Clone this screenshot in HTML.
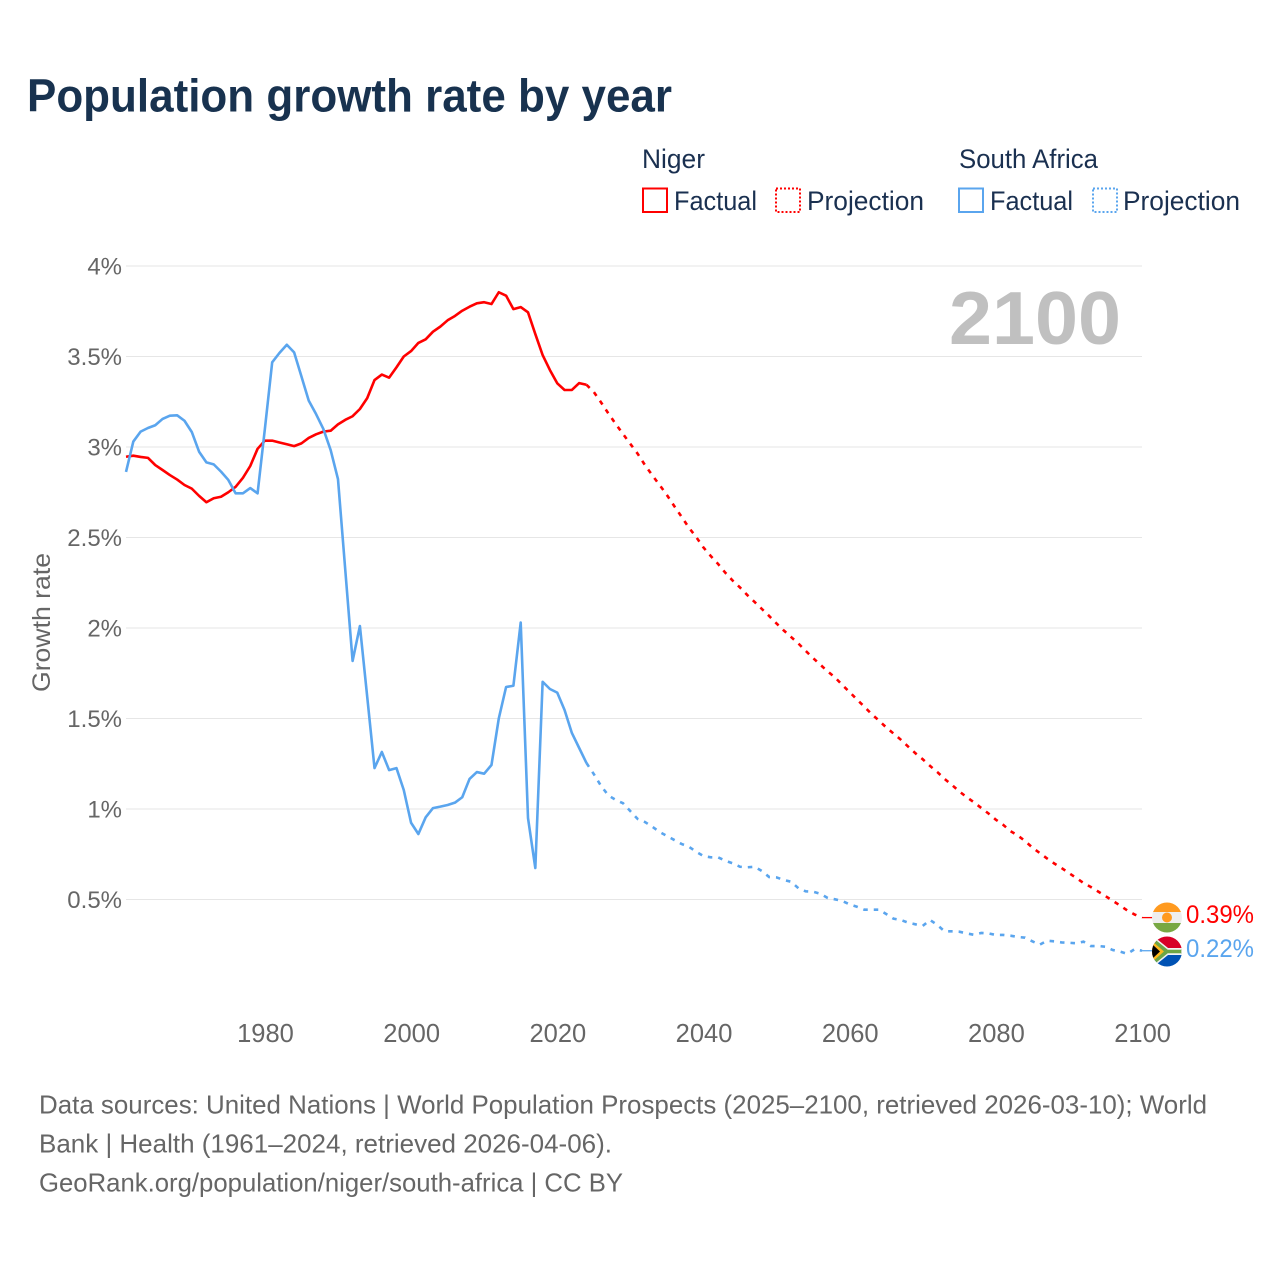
<!DOCTYPE html>
<html lang="en">
<head>
<meta charset="utf-8">
<title>Population growth rate by year</title>
<style>
html,body{margin:0;padding:0;background:#fff;}
svg{display:block;font-family:"Liberation Sans",sans-serif;}
</style>
</head>
<body>
<svg id="chart" xmlns="http://www.w3.org/2000/svg" width="1280" height="1280" viewBox="0 0 1280 1280">
  <rect x="0" y="0" width="1280" height="1280" fill="#ffffff"/>
  <text x="27" y="111.5" font-size="46" font-weight="700" fill="#18324f" textLength="645" lengthAdjust="spacingAndGlyphs">Population growth rate by year</text>

  <g fill="#1a3050" font-size="27">
    <text x="642" y="168" textLength="63" lengthAdjust="spacingAndGlyphs">Niger</text>
    <text x="959" y="168" textLength="139" lengthAdjust="spacingAndGlyphs">South Africa</text>
    <rect x="643" y="188.5" width="24" height="23.5" fill="none" stroke="#ff0000" stroke-width="2"/>
    <text x="674" y="210" textLength="83" lengthAdjust="spacingAndGlyphs">Factual</text>
    <rect x="776" y="188.5" width="24" height="23.5" fill="none" stroke="#ff0000" stroke-width="2" stroke-dasharray="2,2"/>
    <text x="807" y="210" textLength="117" lengthAdjust="spacingAndGlyphs">Projection</text>
    <rect x="959" y="188.5" width="24" height="23.5" fill="none" stroke="#5aa5ee" stroke-width="2"/>
    <text x="990" y="210" textLength="83" lengthAdjust="spacingAndGlyphs">Factual</text>
    <rect x="1093" y="188.5" width="24" height="23.5" fill="none" stroke="#5aa5ee" stroke-width="2" stroke-dasharray="2,2"/>
    <text x="1123" y="210" textLength="117" lengthAdjust="spacingAndGlyphs">Projection</text>
  </g>

  <g id="grid"></g>
  <g id="y-ticks"></g>
  <g id="x-ticks"></g>

  <text x="949" y="344" font-size="75" font-weight="700" fill="#c0c0c0" textLength="172" lengthAdjust="spacingAndGlyphs">2100</text>
  <text transform="translate(50 692) rotate(-90)" font-size="25" fill="#666666" textLength="139" lengthAdjust="spacingAndGlyphs">Growth rate</text>

  <g id="series"></g>

  <g>
    <clipPath id="clip-ne"><circle cx="1167" cy="917.5" r="15"/></clipPath>
    <g clip-path="url(#clip-ne)">
      <rect x="1152" y="902" width="30" height="10.5" fill="#ff9a1f"/>
      <rect x="1152" y="912" width="30" height="11" fill="#eeeeee"/>
      <rect x="1152" y="923" width="30" height="10" fill="#78a843"/>
      <circle cx="1167" cy="917.5" r="5" fill="#ff9a1f"/>
    </g>
  </g>
  <g>
    <clipPath id="clip-za"><circle cx="1167" cy="951.5" r="15"/></clipPath>
    <circle cx="1167" cy="951.5" r="15" fill="#ffffff"/>
    <g clip-path="url(#clip-za)">
      <rect x="1152" y="936" width="30" height="12" fill="#d80027"/>
      <rect x="1152" y="955" width="30" height="12" fill="#0052b4"/>
      <polygon points="1152,936 1168,949 1182,949 1182,954 1168,954 1152,967" fill="#6da544" stroke="#f0f0f0" stroke-width="1.5"/>
      <polygon points="1152,941 1164,951.5 1152,962" fill="#ffb81c"/>
      <polygon points="1152,944 1160,951.5 1152,959" fill="#000000"/>
    </g>
  </g>

  <text id="end-label-niger" x="1186" y="923" font-size="25" fill="#ff0000" textLength="68" lengthAdjust="spacingAndGlyphs">0.39%</text>
  <text id="end-label-za" x="1186" y="957" font-size="25" fill="#5aa5ee" textLength="68" lengthAdjust="spacingAndGlyphs">0.22%</text>

  <g font-size="26" fill="#666666">
    <text x="39" y="1113.5" textLength="1168" lengthAdjust="spacingAndGlyphs">Data sources: United Nations | World Population Prospects (2025–2100, retrieved 2026-03-10); World</text>
    <text x="39" y="1152.5" textLength="573" lengthAdjust="spacingAndGlyphs">Bank | Health (1961–2024, retrieved 2026-04-06).</text>
    <a><text x="39" y="1191.5" textLength="584" lengthAdjust="spacingAndGlyphs">GeoRank.org/population/niger/south-africa | CC BY</text></a>
  </g>
</svg>
<script>
const yTicks = [0.5, 1, 1.5, 2, 2.5, 3, 3.5, 4];
const yTickLabels = ["0.5%", "1%", "1.5%", "2%", "2.5%", "3%", "3.5%", "4%"];
const xTicks = [1980, 2000, 2020, 2040, 2060, 2080, 2100];
const xTickLabels = ["1980", "2000", "2020", "2040", "2060", "2080", "2100"];
const factualFirstYear = 1961;
const projectionFirstYear = 2025;

const nigerFactual = [
  2.946,2.952,2.945,2.94,2.90,2.873,2.845,2.82,2.79,2.77,
  2.73,2.695,2.717,2.725,2.75,2.78,2.83,2.895,2.99,3.035,
  3.035,3.025,3.015,3.005,3.02,3.05,3.07,3.085,3.09,3.125,
  3.15,3.17,3.21,3.27,3.37,3.40,3.383,3.44,3.50,3.53,
  3.575,3.595,3.637,3.665,3.70,3.724,3.753,3.775,3.794,3.80,
  3.79,3.855,3.836,3.762,3.773,3.744,3.624,3.508,3.425,3.352,
  3.315,3.315,3.353,3.344
];
const nigerProjection = [
  3.304,3.246,3.185,3.127,3.072,3.017,2.963,2.90,2.844,2.79,
  2.735,2.674,2.615,2.555,2.503,2.445,2.398,2.354,2.305,2.262,
  2.224,2.182,2.144,2.105,2.066,2.025,1.986,1.95,1.914,1.873,
  1.834,1.797,1.76,1.727,1.685,1.646,1.605,1.566,1.525,1.489,
  1.451,1.417,1.383,1.345,1.308,1.275,1.238,1.204,1.166,1.133,
  1.097,1.066,1.037,1.006,0.975,0.941,0.913,0.878,0.854,0.823,
  0.787,0.757,0.727,0.699,0.674,0.646,0.619,0.591,0.569,0.544,
  0.519,0.493,0.467,0.439,0.417,0.40
];
const southAfricaFactual = [
  2.862,3.03,3.085,3.105,3.12,3.155,3.173,3.175,3.145,3.083,
  2.974,2.915,2.904,2.864,2.818,2.744,2.744,2.773,2.744,3.10,
  3.468,3.52,3.565,3.523,3.39,3.256,3.182,3.10,2.983,2.823,
  2.32,1.818,2.011,1.62,1.226,1.315,1.215,1.226,1.105,0.924,
  0.862,0.954,1.005,1.013,1.022,1.035,1.065,1.166,1.204,1.195,
  1.243,1.50,1.674,1.681,2.03,0.95,0.674,1.703,1.663,1.643,
  1.547,1.42,1.337,1.254
];
const southAfricaProjection = [
  1.193,1.127,1.075,1.05,1.032,0.988,0.945,0.928,0.902,0.873,
  0.851,0.829,0.807,0.792,0.764,0.74,0.733,0.733,0.714,0.70,
  0.681,0.678,0.681,0.657,0.624,0.622,0.608,0.598,0.562,0.545,
  0.543,0.532,0.508,0.501,0.492,0.473,0.46,0.444,0.444,0.444,
  0.42,0.394,0.387,0.372,0.363,0.354,0.387,0.359,0.324,0.324,
  0.322,0.313,0.305,0.315,0.313,0.304,0.304,0.30,0.293,0.289,
  0.269,0.25,0.272,0.269,0.263,0.261,0.258,0.267,0.243,0.243,
  0.239,0.221,0.212,0.20,0.226,0.217
];

const SVG_NS = "http://www.w3.org/2000/svg";
const RED = "#ff0000";
const BLUE = "#5aa5ee";
function xScale(year) { return 126 + (year - 1961) * (1016 / 139); }
function yScale(value) { return 990 - value * 181; }

const gridGroup = document.getElementById("grid");
const yTickGroup = document.getElementById("y-ticks");
const xTickGroup = document.getElementById("x-ticks");
const seriesGroup = document.getElementById("series");

yTicks.forEach(function (tick, i) {
  const line = document.createElementNS(SVG_NS, "line");
  line.setAttribute("x1", xScale(1961));
  line.setAttribute("x2", xScale(2100));
  line.setAttribute("y1", yScale(tick));
  line.setAttribute("y2", yScale(tick));
  line.setAttribute("stroke", "#e6e6e6");
  line.setAttribute("stroke-width", "1");
  
  
  gridGroup.appendChild(line);

  const label = document.createElementNS(SVG_NS, "text");
  label.setAttribute("x", 122);
  label.setAttribute("y", yScale(tick) + 8.5);
  label.setAttribute("text-anchor", "end");
  label.setAttribute("font-size", "24");
  label.setAttribute("fill", "#666666");
  label.textContent = yTickLabels[i];
  
  
  yTickGroup.appendChild(label);
});

xTicks.forEach(function (tick, i) {
  const label = document.createElementNS(SVG_NS, "text");
  label.setAttribute("x", xScale(tick) + 0.6);
  label.setAttribute("y", 1042);
  label.setAttribute("text-anchor", "middle");
  label.setAttribute("font-size", "25.5");
  label.setAttribute("fill", "#666666");
  label.textContent = xTickLabels[i];
  
  
  xTickGroup.appendChild(label);
});

function buildPath(firstYear, values) {
  return values.map(function (value, i) {
    return (i === 0 ? "M" : "L") + xScale(firstYear + i).toFixed(2) + " " + yScale(value).toFixed(2);
  }).join(" ");
}

function drawSeries(factual, projection, color) {
  const solid = document.createElementNS(SVG_NS, "path");
  solid.setAttribute("d", buildPath(factualFirstYear, factual));
  solid.setAttribute("fill", "none");
  solid.setAttribute("stroke", color);
  solid.setAttribute("stroke-width", "2.6");
  solid.setAttribute("stroke-linejoin", "round");
  
  
  seriesGroup.appendChild(solid);

  const lastFactual = factual[factual.length - 1];
  const dashed = document.createElementNS(SVG_NS, "path");
  dashed.setAttribute("d", buildPath(projectionFirstYear - 1, [lastFactual].concat(projection)));
  dashed.setAttribute("fill", "none");
  dashed.setAttribute("stroke", color);
  dashed.setAttribute("stroke-width", "2.6");
  dashed.setAttribute("stroke-dasharray", "4.5,6");
  
  
  seriesGroup.appendChild(dashed);

  const lastValue = projection[projection.length - 1];
  const connector = document.createElementNS(SVG_NS, "line");
  connector.setAttribute("x1", xScale(2100));
  connector.setAttribute("x2", 1153);
  connector.setAttribute("y1", yScale(lastValue));
  connector.setAttribute("y2", yScale(lastValue));
  connector.setAttribute("stroke", color);
  connector.setAttribute("stroke-width", "1.3");
  
  
  seriesGroup.appendChild(connector);
}

drawSeries(nigerFactual, nigerProjection, RED);
drawSeries(southAfricaFactual, southAfricaProjection, BLUE);
</script>
</body>
</html>
